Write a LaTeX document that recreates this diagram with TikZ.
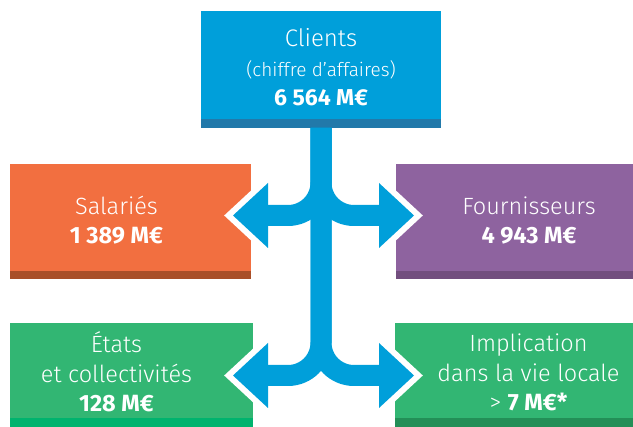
\documentclass[tikz,border=0pt]{standalone}
\usepackage{fontspec}
\setmainfont{Fira Sans Light}[BoldFont={Fira Sans Bold}]
\usepackage{tikz}
\usetikzlibrary{calc}
\definecolor{cblue}{HTML}{009FDA}
\definecolor{cbluedk}{HTML}{2279AA}
\definecolor{corange}{HTML}{F26F40}
\definecolor{corangedk}{HTML}{A94F28}
\definecolor{cpurple}{HTML}{8E639F}
\definecolor{cpurpledk}{HTML}{724E7E}
\definecolor{cgreen}{HTML}{32B673}
\definecolor{cgreenlt}{HTML}{00B36E}
\definecolor{cgreendk}{HTML}{238F57}
\tikzset{
  panel/.style={inner sep=0pt, outer sep=0pt, anchor=north west},
  lab/.style={text=white, align=center, inner sep=0pt, anchor=base,
    font=\fontsize{23.5}{29.5}\selectfont},
  shaft/.style={draw=cblue, line width=21pt, rounded corners=33pt},
  halo/.style={draw=white, line width=12pt, line join=miter},
}

\begin{document}
\begin{tikzpicture}[x=1pt, y=-1pt]
\useasboundingbox (0,0) rectangle (633,427);
% boxes
\node[panel, fill=cblue, minimum width=240pt, minimum height=117pt] (cli) at (201,11) {};
\node[panel, fill=corange, minimum width=241pt, minimum height=115pt] (sal) at (10,164) {};
\node[panel, fill=cpurple, minimum width=237pt, minimum height=115pt] (fou) at (396,164) {};
\node[panel, fill=cgreen, minimum width=243pt, minimum height=104pt] (eta) at (10,323) {};
\node[panel, fill=cgreen, minimum width=238pt, minimum height=104pt] (imp) at (395,323) {};
\fill[cbluedk] (cli.south west) rectangle ($(cli.south east)+(0,-9)$);
\fill[corangedk] (sal.south west) rectangle ($(sal.south east)+(0,-8)$);
\fill[cpurpledk] (fou.south west) rectangle ($(fou.south east)+(0,-8)$);
\fill[cgreenlt] (eta.south west) rectangle ($(eta.south east)+(0,-9)$);
\fill[cgreendk] (imp.south west) rectangle ($(imp.south east)+(0,-9)$);
% texts
\node[lab] (cli-t) at (321,106) {\fontsize{24}{31}\selectfont Clients\\
  \fontsize{19}{30.5}\selectfont (chiffre d’affaires)\\
  \fontsize{23}{30}\selectfont\bfseries 6 564 M€};
\node[lab] (sal-t) at (116.5,244) {Salariés\\ \bfseries 1 389 M€};
\node[lab] (fou-t) at (529,244) {Fournisseurs\\ \bfseries 4 943 M€};
\node[lab] (eta-t) at (116.5,412) {États\\ et collectivités\\ \bfseries 128 M€};
\node[lab] (imp-t) at (528.5,411) {Implication\\ dans la vie locale\\ > \textbf{7 M€*}};
% arrow heads
\coordinate (sal-in) at (268,215.5);
\coordinate (fou-in) at (379,215.5);
\coordinate (eta-in) at (268,375.5);
\coordinate (imp-in) at (379,375.5);
\foreach \n/\s in {sal/-1, fou/1, eta/-1, imp/1} {
  \draw[halo] (\n-in) ++(0,-32.5) -- ++(35*\s,32.5) -- ++(-35*\s,32.5) -- cycle;
  \fill[cblue] (\n-in) ++(0,-32.5) -- ++(35*\s,32.5) -- ++(-35*\s,32.5) -- cycle;
}
% flows
\draw[shaft] (cli.south) |- (sal-in);
\draw[shaft] (cli.south) |- (fou-in);
\draw[shaft] (cli.south) |- (eta-in);
\draw[shaft] (cli.south) |- (imp-in);
\end{tikzpicture}
\end{document}
